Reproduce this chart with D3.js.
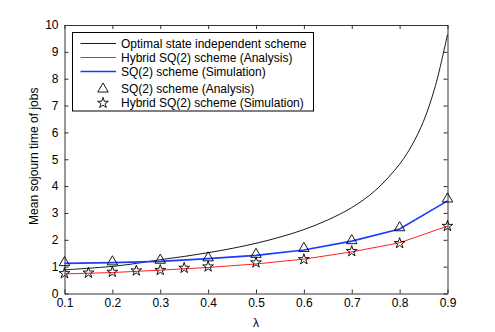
<!DOCTYPE html>
<html><head><meta charset="utf-8">
<script src="https://cdn.jsdelivr.net/npm/d3@7"></script>
<style>body{margin:0;background:#fff}svg{display:block;font-family:"Liberation Sans",Arial,sans-serif}</style>
</head><body><svg id="c" width="495" height="332"></svg>
<script>
// Data
const optLambda = [0.1,0.15,0.2,0.25,0.3,0.35,0.4,0.45,0.5,0.55,0.6,0.65,0.7,0.75,0.8,0.825,0.85,0.875,0.9];
const optValues = [0.88,0.94,1.01,1.12,1.26,1.38,1.52,1.68,1.87,2.1,2.38,2.74,3.2,3.85,4.82,5.5,6.42,7.75,9.65];
const lambda9 = [0.1,0.2,0.3,0.4,0.5,0.6,0.7,0.8,0.9];
const hybridAnalysis = [0.73,0.78,0.87,0.97,1.1,1.28,1.55,1.89,2.51];
const sqSimulation = [1.12,1.15,1.2,1.3,1.42,1.62,1.95,2.4,3.45];
const sqAnalysis = [1.15,1.18,1.24,1.33,1.46,1.68,1.97,2.45,3.52];
const starLambda = [0.1,0.15,0.2,0.25,0.3,0.35,0.4,0.5,0.6,0.7,0.8,0.9];
const hybridSimulation = [0.75,0.77,0.8,0.85,0.87,0.95,1.0,1.15,1.27,1.57,1.87,2.51];
const xTicks = [0.1,0.2,0.3,0.4,0.5,0.6,0.7,0.8,0.9];
const yTicks = [0,1,2,3,4,5,6,7,8,9,10];
const legendLabels = ["Optimal state independent scheme","Hybrid SQ(2) scheme (Analysis)","SQ(2) scheme (Simulation)","SQ(2) scheme (Analysis)","Hybrid SQ(2) scheme (Simulation)"];

const svg = d3.select("#c");
const L=64.5,R=447.5,T=25,B=293.5;
const x = d3.scaleLinear().domain([0.1,0.9]).range([L,R]);
const y = d3.scaleLinear().domain([0,10]).range([B,T]);
const axCol="#333";

const fs=12;
const xb = svg.append("g").attr("transform",`translate(0,${B})`).call(d3.axisBottom(x).tickValues(xTicks).tickFormat(d3.format(".1f")).tickSizeInner(-4).tickSizeOuter(0).tickPadding(6));
const xt = svg.append("g").attr("transform",`translate(0,${T})`).call(d3.axisTop(x).tickValues(xTicks).tickFormat("").tickSizeInner(-4).tickSizeOuter(0));
const yl = svg.append("g").attr("transform",`translate(${L},0)`).call(d3.axisLeft(y).tickValues(yTicks).tickFormat(d3.format("d")).tickSizeInner(-4).tickSizeOuter(0).tickPadding(6));
const yr = svg.append("g").attr("transform",`translate(${R},0)`).call(d3.axisRight(y).tickValues(yTicks).tickFormat("").tickSizeInner(-4).tickSizeOuter(0));
[xb,xt,yl,yr].forEach(g=>{g.selectAll("path,line").attr("stroke",axCol);g.selectAll("text").attr("font-size",fs).attr("fill","#000").attr("font-family","Liberation Sans, Arial, sans-serif");});
xb.selectAll("text").attr("dy","0.6em");

svg.append("text").attr("x",(L+R)/2).attr("y",327).attr("text-anchor","middle").attr("font-size",fs).text("λ");
svg.append("text").attr("transform",`translate(38,${(T+B)/2-3}) rotate(-90)`).attr("text-anchor","middle").attr("font-size",fs).text("Mean sojourn time of jobs");

const plot = svg.append("g");
const lineOpt = d3.line().x((d,i)=>x(optLambda[i])).y(d=>y(d)).curve(d3.curveCatmullRom);
plot.append("path").attr("d",lineOpt(optValues)).attr("fill","none").attr("stroke","#000").attr("stroke-width",0.9);
const line9 = d3.line().x((d,i)=>x(lambda9[i])).y(d=>y(d));
plot.append("path").attr("d",line9(hybridAnalysis)).attr("fill","none").attr("stroke","#ff2020").attr("stroke-width",1);
plot.append("path").attr("d",line9(sqSimulation)).attr("fill","none").attr("stroke","#1a3cff").attr("stroke-width",1.7);

const tri = d3.symbol().type(d3.symbolTriangle).size(48);
const star = d3.symbol().type(d3.symbolStar).size(36);
plot.selectAll(".tri").data(sqAnalysis).join("path").attr("transform",(d,i)=>`translate(${x(lambda9[i])},${y(d)})`).attr("d",tri).attr("fill","none").attr("stroke","#000").attr("stroke-width",0.9);
plot.selectAll(".star").data(hybridSimulation).join("path").attr("transform",(d,i)=>`translate(${x(starLambda[i])},${y(d)})`).attr("d",star).attr("fill","none").attr("stroke","#000").attr("stroke-width",0.9);

// legend
const lg = svg.append("g");
lg.append("rect").attr("x",72.5).attr("y",32.5).attr("width",241).attr("height",78.5).attr("fill","#fff").attr("stroke","#000").attr("stroke-width",1);
const rowsY=[43.5,57.5,71.5,89,103];
const lineStyles=[["#000",0.9],["#ff2020",1],["#1a3cff",1.7]];
lineStyles.forEach((s,i)=>{lg.append("line").attr("x1",80.5).attr("x2",116).attr("y1",rowsY[i]).attr("y2",rowsY[i]).attr("stroke",s[0]).attr("stroke-width",s[1]);});
lg.append("path").attr("transform",`translate(103,${rowsY[3]})`).attr("d",tri).attr("fill","none").attr("stroke","#000").attr("stroke-width",0.9);
lg.append("path").attr("transform",`translate(103,${rowsY[4]})`).attr("d",star).attr("fill","none").attr("stroke","#000").attr("stroke-width",0.9);
legendLabels.forEach((t,i)=>{lg.append("text").attr("x",121).attr("y",rowsY[i]).attr("dy","0.35em").attr("font-size",fs).text(t);});
</script></body></html>
